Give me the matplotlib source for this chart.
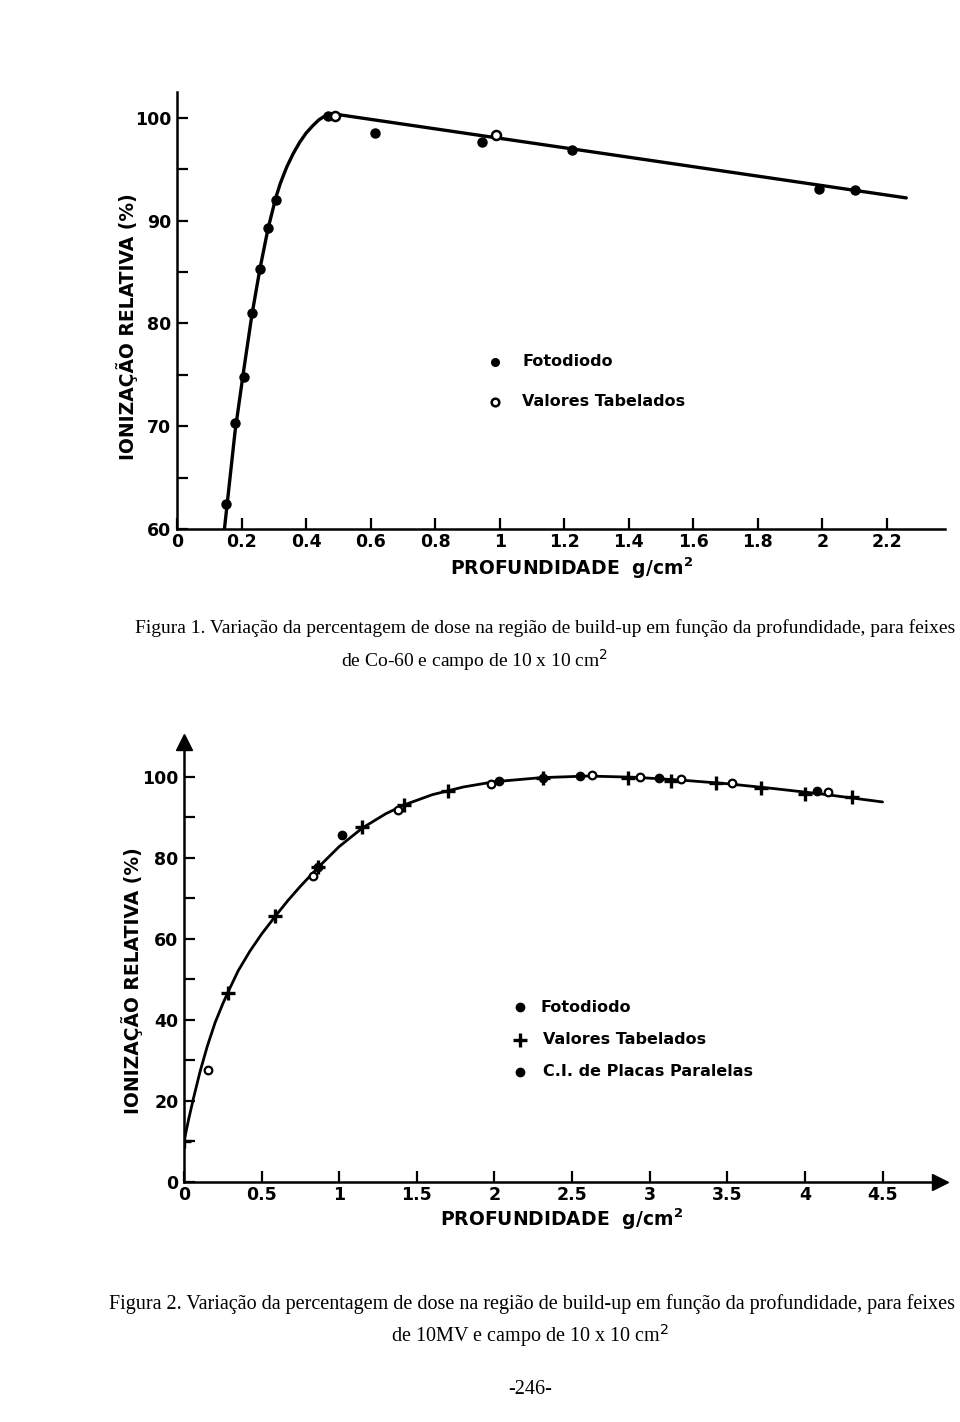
import matplotlib
matplotlib.use("Agg")
import matplotlib.pyplot as plt

# ---------------- Figure 1 data (Co-60) ----------------
f1_foto_x = [0.152, 0.180, 0.207, 0.232, 0.257, 0.282, 0.306, 0.467, 0.613, 0.944, 1.223, 1.990, 2.100]
f1_foto_y = [62.4, 70.3, 74.8, 81.0, 85.3, 89.3, 92.0, 100.2, 98.5, 97.6, 96.9, 93.1, 93.0]
f1_tab_x = [0.489, 0.990]
f1_tab_y = [100.2, 98.3]
f1_curve_x = [0.147, 0.180, 0.207, 0.232, 0.257, 0.282, 0.306, 0.320, 0.340, 0.360, 0.380, 0.400, 0.420, 0.440, 0.460, 0.480, 0.500, 2.260]
f1_curve_y = [60.0, 69.5, 75.5, 80.8, 85.3, 89.2, 92.2, 93.6, 95.2, 96.5, 97.6, 98.5, 99.2, 99.8, 100.2, 100.35, 100.3, 92.2]
f1_xticks = [0, 0.2, 0.4, 0.6, 0.8, 1.0, 1.2, 1.4, 1.6, 1.8, 2.0, 2.2]
f1_xticklabels = ["0", "0.2", "0.4", "0.6", "0.8", "1", "1.2", "1.4", "1.6", "1.8", "2", "2.2"]
f1_yticks = [60, 70, 80, 90, 100]
f1_yminor = [65, 75, 85, 95]

# ---------------- Figure 2 data (10 MV) ----------------
f2_foto_x = [0.863, 1.017, 2.030, 2.310, 2.550, 3.060, 4.080]
f2_foto_y = [77.8, 85.7, 99.0, 99.8, 100.2, 99.7, 96.5]
f2_tab_x = [0.000, 0.285, 0.586, 0.863, 1.146, 1.420, 1.700, 2.310, 2.860, 3.140, 3.430, 3.720, 4.000, 4.300]
f2_tab_y = [10.0, 46.7, 65.7, 77.8, 87.7, 93.1, 96.5, 99.8, 99.7, 99.0, 98.5, 97.3, 95.8, 95.1]
f2_ci_x = [0.155, 0.830, 1.380, 1.980, 2.630, 2.940, 3.200, 3.530, 4.150]
f2_ci_y = [27.7, 75.5, 91.9, 98.3, 100.5, 100.0, 99.5, 98.5, 96.3]
f2_curve_x = [0.0, 0.03, 0.06, 0.103, 0.15, 0.20, 0.25, 0.285, 0.35, 0.425, 0.50, 0.586, 0.67, 0.75, 0.863, 1.0, 1.15, 1.3, 1.42, 1.6, 1.8, 2.0, 2.3, 2.6, 2.9, 3.2, 3.5, 3.8, 4.1, 4.5]
f2_curve_y = [10.0, 15.5, 20.5, 27.2, 33.5, 39.3, 44.0, 47.0, 52.2, 57.0, 61.2, 65.5, 69.5, 73.0, 77.6, 82.8, 87.4, 90.9, 93.1, 95.6, 97.5, 98.8, 99.8, 100.2, 99.9, 99.2, 98.3, 97.1, 95.8, 93.8]
f2_xticks = [0, 0.5, 1, 1.5, 2, 2.5, 3, 3.5, 4, 4.5]
f2_xticklabels = ["0", "0.5", "1", "1.5", "2", "2.5", "3", "3.5", "4", "4.5"]
f2_yticks = [0, 20, 40, 60, 80, 100]
f2_yminor = [10, 30, 50, 70, 90]

caption1 = "Figura 1. Variação da percentagem de dose na região de build-up em função da profundidade, para feixes"
caption1b = "de Co-60 e campo de 10 x 10 cm$^{2}$"
caption2 = "Figura 2. Variação da percentagem de dose na região de build-up em função da profundidade, para feixes"
caption2b = "de 10MV e campo de 10 x 10 cm$^{2}$"
page = "-246-"
ylabel = "IONIZAÇÃO RELATIVA (%)"
xlabel = "PROFUNDIDADE  g/cm$^{\\mathbf{2}}$"

W, H = 960, 1422
fig = plt.figure(figsize=(W / 100, H / 100), dpi=100)
fig.patch.set_facecolor("white")

SANS = "DejaVu Sans"
SERIF = "Liberation Serif"
tickfont = dict(family=SANS, weight="bold", size=12.5)


def style_axes(ax):
    for s in ("top", "right"):
        ax.spines[s].set_visible(False)
    for s in ("left", "bottom"):
        ax.spines[s].set_linewidth(1.8)
    ax.tick_params(which="both", direction="in", length=8, width=1.6, pad=4)
    ax.tick_params(axis="x", pad=3)
    ax.set_facecolor("none")


# ---------------- Top chart ----------------
ax1 = fig.add_axes([177 / W, 1 - 529 / H, 768 / W, (529 - 92) / H])
style_axes(ax1)
ax1.set_xlim(0, 2.38)
ax1.set_ylim(60, 102.5)
ax1.plot(f1_curve_x, f1_curve_y, color="black", lw=2.4, solid_capstyle="round",
         solid_joinstyle="round", zorder=2)
ax1.plot(f1_foto_x, f1_foto_y, "o", color="black", ms=6.5, zorder=3)
ax1.plot(f1_tab_x, f1_tab_y, "o", mfc="white", mec="black", mew=1.8, ms=6.5, zorder=3)
ax1.set_xticks(f1_xticks)
ax1.set_xticklabels(f1_xticklabels, fontdict=tickfont)
ax1.set_yticks(f1_yticks)
ax1.set_yticklabels([str(v) for v in f1_yticks], fontdict=tickfont)
ax1.set_yticks(f1_yminor, minor=True)
ax1.tick_params(axis="y", which="minor", length=8, width=1.6)

# legend (top)
ax1.plot([(495 - 177) / 768], [1 - (362 - 92) / 437], "o", color="black", ms=5.5,
         transform=ax1.transAxes, clip_on=False)
ax1.plot([(495 - 177) / 768], [1 - (402 - 92) / 437], "o", mfc="white", mec="black", mew=1.8, ms=5.5,
         transform=ax1.transAxes, clip_on=False)
fig.text(522 / W, 1 - 362 / H, "Fotodiodo", ha="left", va="center", family=SANS, weight="bold", size=11.5)
fig.text(522 / W, 1 - 402 / H, "Valores Tabelados", ha="left", va="center", family=SANS, weight="bold", size=11.5)

fig.text(127 / W, 1 - 327 / H, ylabel, rotation=90, ha="center", va="center",
         family=SANS, weight="bold", size=13.5)
fig.text(572 / W, 1 - 568 / H, xlabel, ha="center", va="center", family=SANS, weight="bold", size=13.5)

# ---------------- Bottom chart ----------------
ax2 = fig.add_axes([184 / W, 1 - 1182 / H, 756 / W, (1182 - 742) / H])
style_axes(ax2)
ax2.set_xlim(0, 4.87)
ax2.set_ylim(0, 108.6)
ax2.plot(f2_curve_x, f2_curve_y, color="black", lw=2.0, solid_capstyle="round",
         solid_joinstyle="round", zorder=2)
ax2.plot(f2_foto_x, f2_foto_y, "o", color="black", ms=6, zorder=3)
ax2.plot(f2_tab_x, f2_tab_y, "+", color="black", mew=2.4, ms=10, zorder=3)
ax2.plot(f2_ci_x, f2_ci_y, "o", mfc="white", mec="black", mew=1.6, ms=5.5, zorder=4)
ax2.set_xticks(f2_xticks)
ax2.set_xticklabels(f2_xticklabels, fontdict=tickfont)
ax2.set_yticks(f2_yticks)
ax2.set_yticklabels([str(v) for v in f2_yticks], fontdict=tickfont)
ax2.set_yticks(f2_yminor, minor=True)
ax2.tick_params(axis="y", which="minor", length=8, width=1.6)
# arrow heads
ax2.plot([1], [0], ">", color="black", ms=11, transform=ax2.transAxes, clip_on=False)
ax2.plot([0], [1], "^", color="black", ms=11, transform=ax2.transAxes, clip_on=False)

# legend (bottom)
lx = (520 - 184) / 756
for yy, mk, kw in [(1007, "o", dict(color="black", ms=6)),
                   (1040, "+", dict(color="black", ms=10, mew=2.4)),
                   (1072, "o", dict(color="black", ms=6))]:
    ax2.plot([lx], [1 - (yy - 742) / 440], mk, transform=ax2.transAxes, clip_on=False, **kw)
fig.text(540 / W, 1 - 1007 / H, "Fotodiodo", ha="left", va="center", family=SANS, weight="bold", size=11.5)
fig.text(543 / W, 1 - 1040 / H, "Valores Tabelados", ha="left", va="center", family=SANS, weight="bold", size=11.5)
fig.text(543 / W, 1 - 1072 / H, "C.I. de Placas Paralelas", ha="left", va="center", family=SANS, weight="bold", size=11.5)

fig.text(132 / W, 1 - 981 / H, ylabel, rotation=90, ha="center", va="center",
         family=SANS, weight="bold", size=13.5)
fig.text(562 / W, 1 - 1219 / H, xlabel, ha="center", va="center", family=SANS, weight="bold", size=13.5)

# ---------------- Captions ----------------
fig.text(955 / W, 1 - 628 / H, caption1, ha="right", va="center", family=SERIF, size=14.0)
fig.text(475 / W, 1 - 660 / H, caption1b, ha="center", va="center", family=SERIF, size=14.0)
fig.text(955 / W, 1 - 1304 / H, caption2, ha="right", va="center", family=SERIF, size=14.5)
fig.text(530 / W, 1 - 1336 / H, caption2b, ha="center", va="center", family=SERIF, size=14.5)
fig.text(530 / W, 1 - 1390 / H, page, ha="center", va="center", family=SERIF, size=14.5)

fig.savefig("out.png", dpi=100, facecolor="white")
